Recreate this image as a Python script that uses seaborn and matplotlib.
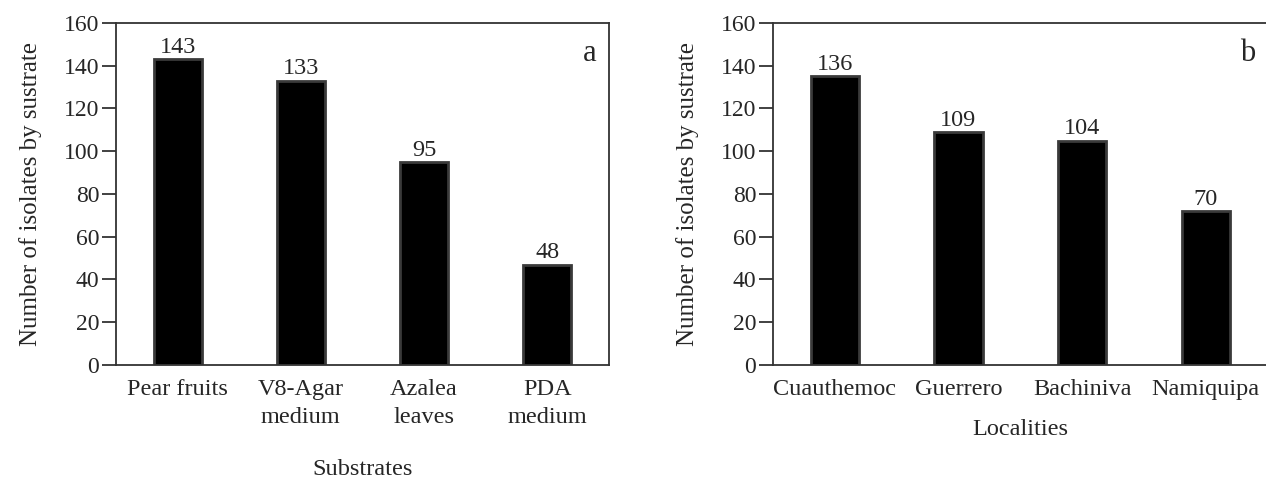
import matplotlib
matplotlib.use("Agg")
import matplotlib.pyplot as plt
import seaborn as sns
import pandas as pd

# data
substrates = ['Pear fruits', 'V8-Agar\nmedium', 'Azalea\nleaves', 'PDA\nmedium']
substrate_counts = [143, 133, 95, 47]
substrate_labels = ['143', '133', '95', '48']

localities = ['Cuauthemoc', 'Guerrero', 'Bachiniva', 'Namiquipa']
locality_counts = [135, 109, 105, 72]
locality_labels = ['136', '109', '104', '70']

sns.set_style('ticks')
plt.rcParams['font.family'] = ['Liberation Serif', 'DejaVu Serif']
plt.rcParams['axes.edgecolor'] = '#333333'
plt.rcParams['axes.linewidth'] = 1.3

fig = plt.figure(figsize=(12.66, 4.79), dpi=100)
ax_a = fig.add_axes([0.0916, 0.238, 0.3894, 0.714])
ax_b = fig.add_axes([0.6106, 0.238, 0.3906, 0.714])

panels = [
    (ax_a, substrates, substrate_counts, substrate_labels, 'Substrates', 'a', 22),
    (ax_b, localities, locality_counts, locality_labels, 'Localities', 'b', 14),
]

for ax, cats, counts, labels, xlab, tag, pad in panels:
    df = pd.DataFrame({'cat': cats, 'n': counts})
    sns.barplot(data=df, x='cat', y='n', ax=ax, color='black', width=0.39,
                edgecolor='#3a3a3a', linewidth=2, saturation=1)
    ax.bar_label(ax.containers[0], labels=labels, padding=1, fontsize=17.5)
    ax.set_ylim(0, 160)
    ax.set_xlim(-0.5, 3.5)
    ax.set_yticks(range(0, 161, 20))
    ax.tick_params(axis='y', direction='out', length=10, width=1.3,
                   color='#333333', labelsize=17, pad=2)
    ax.tick_params(axis='x', length=0, labelsize=17.5, pad=10)
    for t in ax.get_xticklabels():
        t.set_linespacing(1.45)
    ax.set_ylabel('Number of isolates by sustrate', fontsize=18, labelpad=16)
    ax.set_xlabel(xlab, fontsize=17.5, labelpad=pad)
    ax.text(0.975, 0.91, tag, transform=ax.transAxes, ha='right', va='center',
            fontsize=22)
    for s in ax.spines.values():
        s.set_visible(True)

fig.savefig('out.png', dpi=100)
